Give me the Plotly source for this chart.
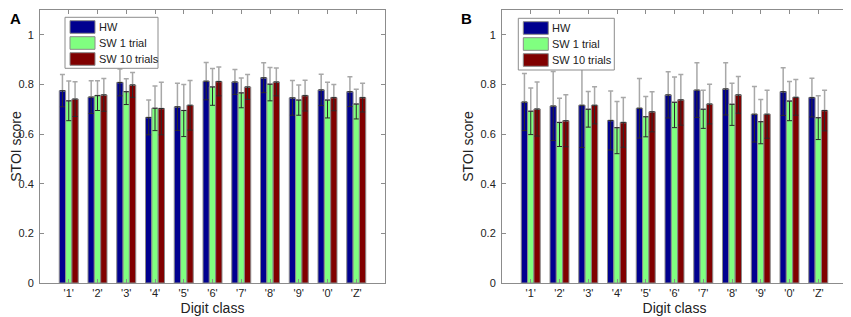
import plotly.graph_objects as go

categories = ["'1'", "'2'", "'3'", "'4'", "'5'", "'6'", "'7'", "'8'", "'9'", "'0'", "'Z'"]
series_names = ["HW", "SW 1 trial", "SW 10 trials"]

# Panel A
a_hw = [0.775, 0.749, 0.808, 0.667, 0.710, 0.813, 0.810, 0.827, 0.746, 0.778, 0.771]
a_hw_err = [0.065, 0.066, 0.054, 0.070, 0.095, 0.075, 0.050, 0.060, 0.070, 0.063, 0.060]
a_sw1 = [0.734, 0.755, 0.771, 0.704, 0.695, 0.790, 0.766, 0.801, 0.737, 0.737, 0.721]
a_sw1_err = [0.080, 0.060, 0.052, 0.090, 0.105, 0.074, 0.060, 0.067, 0.061, 0.072, 0.060]
a_sw10 = [0.741, 0.758, 0.798, 0.703, 0.716, 0.812, 0.790, 0.810, 0.755, 0.747, 0.747]
a_sw10_err = [0.070, 0.066, 0.050, 0.106, 0.100, 0.058, 0.050, 0.056, 0.062, 0.053, 0.058]

# Panel B
b_hw = [0.729, 0.713, 0.716, 0.655, 0.704, 0.758, 0.777, 0.782, 0.680, 0.771, 0.747]
b_hw_err = [0.115, 0.139, 0.170, 0.119, 0.120, 0.093, 0.110, 0.105, 0.112, 0.096, 0.078]
b_sw1 = [0.692, 0.647, 0.700, 0.626, 0.670, 0.728, 0.700, 0.720, 0.650, 0.733, 0.666]
b_sw1_err = [0.094, 0.097, 0.072, 0.105, 0.081, 0.102, 0.077, 0.085, 0.089, 0.079, 0.088]
b_sw10 = [0.701, 0.654, 0.716, 0.647, 0.690, 0.738, 0.721, 0.758, 0.680, 0.748, 0.695]
b_sw10_err = [0.109, 0.105, 0.075, 0.100, 0.081, 0.102, 0.080, 0.074, 0.097, 0.072, 0.082]

colors = ["#00008f", "#80ff80", "#800000"]
y_ticks = [0, 0.2, 0.4, 0.6, 0.8, 1]
y_tick_labels = ["0", "0.2", "0.4", "0.6", "0.8", "1"]

# figure size (page body adds 8px margin around the plot div)
W, H = 843, 309
FONT = "Arial, Liberation Sans, sans-serif"


def px_x(p):
    return p / W


def px_y(p):
    return 1 - p / H


panels = [
    ("x", "y", [a_hw, a_sw1, a_sw10], [a_hw_err, a_sw1_err, a_sw10_err]),
    ("x2", "y2", [b_hw, b_sw1, b_sw10], [b_hw_err, b_sw1_err, b_sw10_err]),
]

xpos = list(range(1, len(categories) + 1))

fig = go.Figure()
for xa, ya, vals, errs in panels:
    for i, (name, v, e) in enumerate(zip(series_names, vals, errs)):
        fig.add_trace(go.Bar(
            x=xpos, y=v, name=name, xaxis=xa, yaxis=ya, showlegend=False,
            offsetgroup=str(i),
            marker=dict(color=colors[i], line=dict(color="#8a8a8a", width=1)),
            error_y=dict(type="data", symmetric=False, array=e, arrayminus=[0] * len(e),
                         color="#a8a8a8", thickness=1.5, width=2.5),
        ))
    for i, (name, v, e) in enumerate(zip(series_names, vals, errs)):
        fig.add_trace(go.Bar(
            x=xpos, y=v, name=name, xaxis=xa, yaxis=ya, showlegend=False,
            offsetgroup=str(i),
            marker=dict(color="rgba(0,0,0,0)", line=dict(width=0)),
            error_y=dict(type="data", symmetric=False, array=[0] * len(e), arrayminus=e,
                         color="#2a2a2a", thickness=1, width=2.5),
        ))

axis_common = dict(showline=True, linecolor="#8c8c8c", linewidth=1, mirror="ticks",
                   ticks="inside", ticklen=4, tickcolor="#8c8c8c", showgrid=False,
                   zeroline=False, automargin=False,
                   tickfont=dict(family=FONT, size=11, color="#222"))

xaxis_common = dict(axis_common, range=[0, 12], tickmode="array", tickvals=xpos, ticktext=categories,
                    ticklabelstandoff=0,
                    title=dict(text="Digit class", font=dict(family=FONT, size=14, color="#222"),
                               standoff=4))
yaxis_common = dict(axis_common, range=[0, 1.1], tickmode="array", tickvals=y_ticks, ticktext=y_tick_labels,
                    ticklabelstandoff=3,
                    title=dict(text="STOI score", font=dict(family=FONT, size=14, color="#222"),
                               standoff=3))

# manual legend boxes (pixel layout within the figure)
legend_boxes = [(57, 9.3, 93, 51), (510.3, 10.3, 96, 51.7)]
shapes = []
annotations = []
for (lx, ly, lw, lh) in legend_boxes:
    shapes.append(dict(type="rect", xref="paper", yref="paper", layer="above",
                       x0=px_x(lx), x1=px_x(lx + lw), y0=px_y(ly + lh), y1=px_y(ly),
                       fillcolor="white", line=dict(color="#8c8c8c", width=1)))
    for i, name in enumerate(series_names):
        top = ly + 3.4 + 16 * i
        shapes.append(dict(type="rect", xref="paper", yref="paper", layer="above",
                           x0=px_x(lx + 5), x1=px_x(lx + 30), y0=px_y(top + 12.6), y1=px_y(top),
                           fillcolor=colors[i], line=dict(color="#8a8a8a", width=1)))
        annotations.append(dict(text=name, xref="paper", yref="paper", showarrow=False,
                                x=px_x(lx + 32), y=px_y(top + 6.3), xanchor="left", yanchor="middle",
                                font=dict(family=FONT, size=11, color="#222")))

annotations += [
    dict(text="<b>A</b>", x=0.0, y=1.0, xref="paper", yref="paper", showarrow=False,
         xanchor="left", yanchor="top", font=dict(family=FONT, size=15, color="#000")),
    dict(text="<b>B</b>", x=px_x(451), y=1.0, xref="paper", yref="paper", showarrow=False,
         xanchor="left", yanchor="top", font=dict(family=FONT, size=15, color="#000")),
]

fig.update_layout(
    width=W, height=H,
    margin=dict(l=0, r=0, t=0, b=0),
    paper_bgcolor="white", plot_bgcolor="white",
    barmode="group", bargap=0.34, bargroupgap=0,
    showlegend=False,
    xaxis=dict(xaxis_common, domain=[px_x(32), px_x(377)], anchor="y"),
    yaxis=dict(yaxis_common, domain=[px_y(275), px_y(2)], anchor="x"),
    xaxis2=dict(xaxis_common, domain=[px_x(494), px_x(839)], anchor="y2"),
    yaxis2=dict(yaxis_common, domain=[px_y(275), px_y(2)], anchor="x2"),
    shapes=shapes,
    annotations=annotations,
)

fig.write_html("out.html")
